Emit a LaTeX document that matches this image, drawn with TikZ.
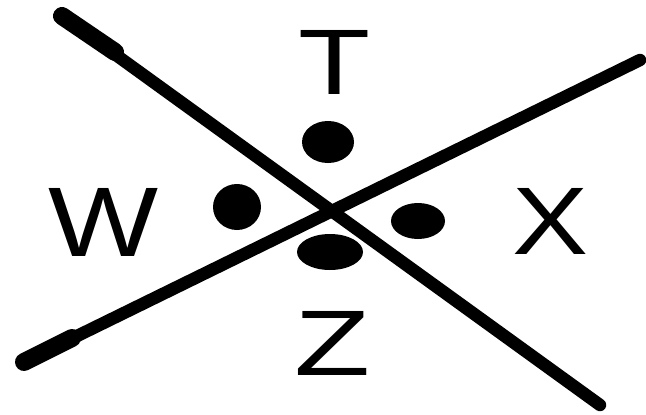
\documentclass[tikz,border=0pt]{standalone}
\usepackage{fontspec}
\usepackage{graphicx}
\setmainfont{Liberation Sans}
\tikzset{
  strokeline/.style={line width=12.5pt, line cap=round, black},
  thickend/.style={line width=18pt, line cap=round, black},
  dot/.style={fill=black, draw=none},
  letter/.style={inner sep=0pt, outer sep=0pt, anchor=center}
}
\begin{document}
\begin{tikzpicture}[x=1pt,y=-1pt]
\useasboundingbox (0,0) rectangle (646,415);
% line 1: top-left to bottom-right
\coordinate (a1) at (62,16);
\coordinate (a1b) at (115,52);
\coordinate (a2) at (600,405);
% line 2: bottom-left to top-right
\coordinate (b1) at (24,362);
\coordinate (b1b) at (72,338);
\coordinate (b2) at (640,60);
\draw[strokeline] (a1) -- (a2);
\draw[strokeline] (b1) -- (b2);
\draw[thickend] (a1) -- (a1b);
\draw[thickend] (b1) -- (b1b);
% dots
\fill[dot] (328,142) ellipse [x radius=26, y radius=21];
\fill[dot] (237,207) ellipse [x radius=24, y radius=23];
\fill[dot] (418,221) ellipse [x radius=27, y radius=18];
\fill[dot] (330,252) ellipse [x radius=33, y radius=18];
% letters
\node[letter] (T) at (335,62) {\resizebox{72pt}{64pt}{T}};
\node[letter] (W) at (104,222) {\resizebox{110pt}{68pt}{W}};
\node[letter] (X) at (551,221) {\resizebox{76pt}{66pt}{X}};
\node[letter] (Z) at (333,343) {\resizebox{76pt}{64pt}{Z}};
\end{tikzpicture}
\end{document}
